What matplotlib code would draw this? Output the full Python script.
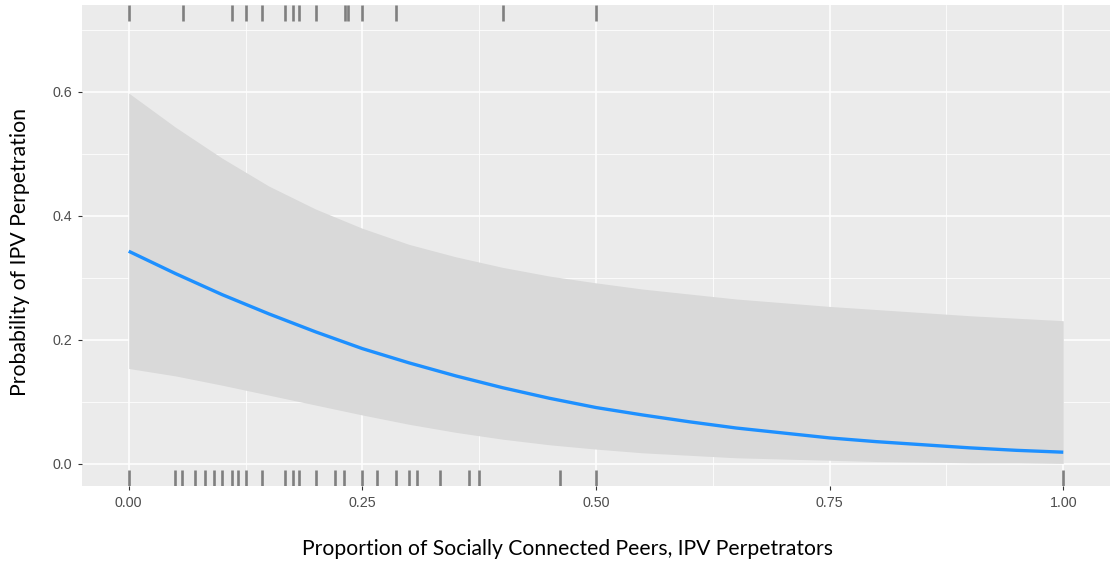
import matplotlib

matplotlib.use("Agg")
import matplotlib.pyplot as plt
import numpy as np

# --------------------------------------------------------------------- #
# Data
# --------------------------------------------------------------------- #
x_grid = [0.00, 0.05, 0.10, 0.15, 0.20, 0.25, 0.30, 0.35, 0.40, 0.45,
          0.50, 0.55, 0.60, 0.65, 0.70, 0.75, 0.80, 0.85, 0.90, 0.95, 1.00]
p_fit = [0.343, 0.307, 0.273, 0.242, 0.213, 0.186, 0.163, 0.142, 0.123,
         0.106, 0.091, 0.079, 0.068, 0.058, 0.050, 0.042, 0.036, 0.031,
         0.026, 0.022, 0.019]
p_upper = [0.598, 0.543, 0.493, 0.448, 0.411, 0.380, 0.354, 0.334, 0.317,
           0.303, 0.292, 0.282, 0.274, 0.266, 0.260, 0.254, 0.249, 0.244,
           0.239, 0.235, 0.231]
p_lower = [0.154, 0.142, 0.127, 0.111, 0.095, 0.079, 0.064, 0.051, 0.040,
           0.031, 0.024, 0.018, 0.014, 0.010, 0.008, 0.006, 0.004, 0.003,
           0.002, 0.002, 0.001]

# peers proportion for perpetrators (top rug) and non-perpetrators (bottom)
rug_top = [0.0, 0.058, 0.111, 0.125, 0.143, 0.167, 0.176, 0.182, 0.200,
           0.231, 0.235, 0.250, 0.286, 0.400, 0.500]
rug_bottom = [0.0, 0.049, 0.057, 0.071, 0.082, 0.091, 0.100, 0.110, 0.117,
              0.125, 0.143, 0.167, 0.176, 0.182, 0.200, 0.221, 0.230, 0.250,
              0.266, 0.286, 0.300, 0.308, 0.333, 0.364, 0.375, 0.462, 0.500,
              1.000]

x_ticks = [0.0, 0.25, 0.5, 0.75, 1.0]
x_tick_labels = ["0.00", "0.25", "0.50", "0.75", "1.00"]
y_ticks = [0.0, 0.2, 0.4, 0.6]
y_tick_labels = ["0.0", "0.2", "0.4", "0.6"]

# --------------------------------------------------------------------- #
# Figure
# --------------------------------------------------------------------- #
W, H = 1110, 565
fig = plt.figure(figsize=(W / 100, H / 100), dpi=100)
ax = fig.add_axes([82 / W, (H - 486) / H, (W - 82) / W, 481 / H])
ax.set_facecolor("#EBEBEB")

ax.fill_between(x_grid, p_lower, p_upper, color="#D9D9D9", lw=0, zorder=2)
ax.plot(x_grid, p_fit, color="#1E90FF", lw=2.4, zorder=3,
        solid_capstyle="butt", solid_joinstyle="round")

rug_kw = dict(colors="#7F7F7F", lw=1.9, zorder=4,
              transform=ax.get_xaxis_transform())
ax.vlines(rug_top, 1 - 0.034, 1, **rug_kw)
ax.vlines(rug_bottom, 0, 0.034, **rug_kw)

ax.set_xlim(-0.05, 1.05)
ax.set_ylim(-0.0355, 0.740)

ax.set_xticks(x_ticks)
ax.set_xticklabels(x_tick_labels)
ax.set_yticks(y_ticks)
ax.set_yticklabels(y_tick_labels)
ax.set_xticks([0.125, 0.375, 0.625, 0.875], minor=True)
ax.set_yticks([0.1, 0.3, 0.5, 0.7], minor=True)

ax.grid(True, which="major", color="white", lw=1.1, zorder=1)
ax.grid(True, which="minor", color="white", lw=0.55, zorder=1)
ax.set_axisbelow(True)

for s in ax.spines.values():
    s.set_visible(False)

ax.tick_params(which="major", length=3, width=0.8, color="#333333",
               labelcolor="#4D4D4D", labelsize=10.3, pad=4)
ax.tick_params(which="minor", length=0)
for lab in ax.get_xticklabels() + ax.get_yticklabels():
    lab.set_family("Liberation Sans")

fig.text(567 / W, 1 - 549 / H,
         "Proportion of Socially Connected Peers, IPV Perpetrators",
         ha="center", va="center", fontsize=15.2, family="Lato",
         color="black")
fig.text(20 / W, 1 - 252 / H, "Probability of IPV Perpetration",
         ha="center", va="center", rotation=90, fontsize=15.3, family="Lato",
         color="black")

fig.savefig("out.png", dpi=100, facecolor="white")
